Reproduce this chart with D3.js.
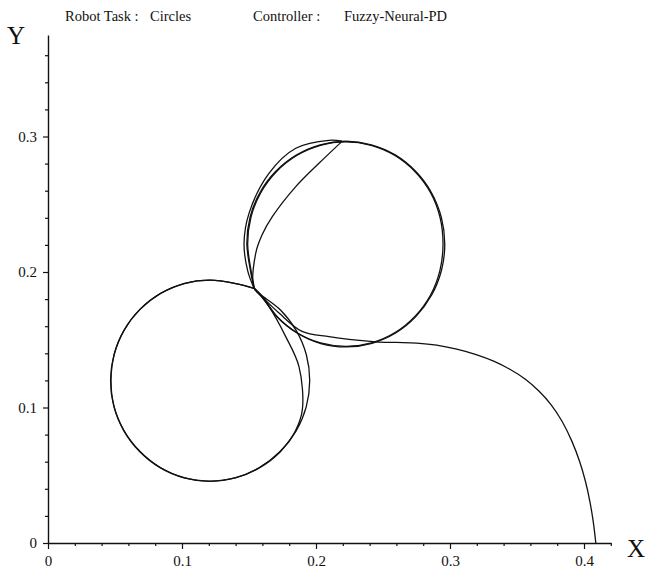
<!DOCTYPE html>
<html>
<head>
<meta charset="utf-8">
<script src="https://cdn.jsdelivr.net/npm/d3@7"></script>
<style>
  html, body { margin: 0; padding: 0; background: #fff; }
  svg { display: block; }
  text { font-family: "Liberation Serif", "Times New Roman", serif; fill: #111; }
</style>
</head>
<body>
<svg id="chart" width="647" height="571"></svg>
<script>
// Tick values
const xMajorTicks = [0, 0.1, 0.2, 0.3, 0.4];
const xMinorTicks = [0.02, 0.04, 0.06, 0.08, 0.12, 0.14, 0.16, 0.18, 0.22, 0.24, 0.26, 0.28, 0.32, 0.34, 0.36, 0.38, 0.42];
const yMajorTicks = [0, 0.1, 0.2, 0.3];
const yMinorTicks = [0.02, 0.04, 0.06, 0.08, 0.12, 0.14, 0.16, 0.18, 0.22, 0.24, 0.26, 0.28, 0.32, 0.34, 0.36];

// Tool path: approach from the start pose to the top of the upper circle
const approachPath = [
  [0.4088, 0.0000], [0.4070, 0.0150], [0.4045, 0.0300], [0.4012, 0.0450],
  [0.3968, 0.0600], [0.3910, 0.0750], [0.3835, 0.0900], [0.3755, 0.1020],
  [0.3665, 0.1120], [0.3560, 0.1210], [0.3450, 0.1280], [0.3330, 0.1340],
  [0.3195, 0.1390], [0.3050, 0.1430], [0.2900, 0.1460], [0.2750, 0.1475],
  [0.2600, 0.1480], [0.2448, 0.1485], [0.2246, 0.1502], [0.2097, 0.1523],
  [0.1896, 0.1562], [0.1724, 0.1697], [0.1597, 0.1818], [0.1537, 0.1882],
  [0.1550, 0.2138], [0.1597, 0.2273], [0.1674, 0.2408], [0.1849, 0.2630],
  [0.2022, 0.2802], [0.2196, 0.2966]
];

// Swing back along the outside of the upper circle to the crossing point
const returnArc = [
  [0.2196, 0.2966], [0.2097, 0.2972], [0.1849, 0.2913], [0.1649, 0.2728],
  [0.1500, 0.2433], [0.1463, 0.2212], [0.1490, 0.2010], [0.1537, 0.1882]
];

// Lower circle, first pass (clockwise), cutting inside on the right side
const lowerLap1 = [
  [0.1537, 0.1882], [0.1649, 0.1744], [0.1774, 0.1523], [0.1873, 0.1301],
  [0.1898, 0.0982], [0.1845, 0.0825], [0.1728, 0.0672], [0.1575, 0.0555],
  [0.1398, 0.0480], [0.1209, 0.0455], [0.1015, 0.0481], [0.0836, 0.0556],
  [0.0684, 0.0675], [0.0566, 0.0828], [0.0492, 0.1006], [0.0467, 0.1199],
  [0.0493, 0.1392], [0.0567, 0.1570], [0.0686, 0.1724], [0.0840, 0.1842],
  [0.1018, 0.1916], [0.1210, 0.1940], [0.1402, 0.1914], [0.1537, 0.1880]
];

// Upper circle, first pass (counter-clockwise)
const upperLap1 = [
  [0.1537, 0.1880], [0.1595, 0.1825], [0.1712, 0.1668], [0.1862, 0.1548],
  [0.2036, 0.1472], [0.2226, 0.1447], [0.2418, 0.1474], [0.2594, 0.1550],
  [0.2745, 0.1671], [0.2862, 0.1828], [0.2936, 0.2011], [0.2961, 0.2207],
  [0.2935, 0.2404], [0.2861, 0.2587], [0.2743, 0.2743], [0.2591, 0.2864],
  [0.2413, 0.2939], [0.2222, 0.2965], [0.2031, 0.2939], [0.1853, 0.2863],
  [0.1700, 0.2743], [0.1582, 0.2587], [0.1508, 0.2404], [0.1484, 0.2207],
  [0.1511, 0.2010], [0.1537, 0.1882]
];

// Lower circle, second pass
const lowerLap2 = [
  [0.1537, 0.1882], [0.1581, 0.1838], [0.1735, 0.1720], [0.1854, 0.1566],
  [0.1928, 0.1389], [0.1953, 0.1198], [0.1927, 0.1005], [0.1852, 0.0827],
  [0.1734, 0.0674], [0.1580, 0.0556], [0.1402, 0.0482], [0.1209, 0.0457],
  [0.1016, 0.0482], [0.0838, 0.0557], [0.0685, 0.0677], [0.0567, 0.0830],
  [0.0493, 0.1008], [0.0470, 0.1200], [0.0495, 0.1393], [0.0569, 0.1571],
  [0.0687, 0.1724], [0.0840, 0.1841], [0.1018, 0.1915], [0.1210, 0.1940],
  [0.1401, 0.1915], [0.1537, 0.1880]
];

// Upper circle, second pass
const upperLap2 = [
  [0.1537, 0.1880], [0.1590, 0.1828], [0.1707, 0.1672], [0.1858, 0.1552],
  [0.2034, 0.1477], [0.2224, 0.1451], [0.2414, 0.1477], [0.2590, 0.1553],
  [0.2740, 0.1674], [0.2855, 0.1830], [0.2925, 0.2012], [0.2948, 0.2207],
  [0.2926, 0.2402], [0.2856, 0.2584], [0.2740, 0.2740], [0.2589, 0.2860],
  [0.2412, 0.2935], [0.2223, 0.2960], [0.2033, 0.2935], [0.1856, 0.2860],
  [0.1704, 0.2740], [0.1587, 0.2584], [0.1514, 0.2402], [0.1490, 0.2207],
  [0.1515, 0.2012], [0.1540, 0.1884]
];

const pathSegments = [approachPath, returnArc, lowerLap1, upperLap1, lowerLap2, upperLap2];

// Heading pieces
const headingTexts = ["Robot Task :", "Circles", "Controller :", "Fuzzy-Neural-PD"];

const svg = d3.select("#chart");

const x = d3.scaleLinear().domain([0, 0.42]).range([48, 48 + 0.42 * 1340]);
const y = d3.scaleLinear().domain([0, 0.375]).range([543, 543 - 0.375 * 1355]);

const fmt = d => d === 0 ? "0" : d3.format(".1f")(d);

// X axis: major labelled ticks and short minor ticks
const xAxisG = svg.append("g").attr("transform", `translate(0,${y(0)})`);
xAxisG.call(d3.axisBottom(x).tickValues(xMajorTicks).tickFormat(fmt)
  .tickSize(6).tickSizeOuter(0).tickPadding(6));
xAxisG.append("g").call(d3.axisBottom(x).tickValues(xMinorTicks).tickFormat("")
  .tickSize(3).tickSizeOuter(0))
  .select(".domain").remove();

// Y axis
const yAxisG = svg.append("g").attr("transform", `translate(${x(0)},0)`);
yAxisG.call(d3.axisLeft(y).tickValues(yMajorTicks).tickFormat(fmt)
  .tickSize(5).tickSizeOuter(0).tickPadding(6));
yAxisG.append("g").call(d3.axisLeft(y).tickValues(yMinorTicks).tickFormat("")
  .tickSize(3).tickSizeOuter(0))
  .select(".domain").remove();

svg.selectAll(".domain").attr("stroke", "#111").attr("stroke-width", 1.4);
svg.selectAll(".tick line").attr("stroke", "#111").attr("stroke-width", 1.2);
svg.selectAll(".tick text")
  .attr("font-family", "'Liberation Serif', 'Times New Roman', serif")
  .attr("font-size", 15).attr("fill", "#111");

// Axis names
svg.append("text").attr("x", 16).attr("y", 44).attr("text-anchor", "middle")
  .attr("font-size", 25).text("Y");
svg.append("text").attr("x", 636).attr("y", 557).attr("text-anchor", "middle")
  .attr("font-size", 25).text("X");

// Heading
const headingX = [65, 150, 253, 344];
svg.selectAll("text.heading").data(headingTexts).enter().append("text")
  .attr("class", "heading")
  .attr("x", (d, i) => headingX[i]).attr("y", 21)
  .attr("font-size", 14.5)
  .text(d => d);

// Trajectory
const line = d3.line().x(d => x(d[0])).y(d => y(d[1])).curve(d3.curveCatmullRom.alpha(0.5));
svg.append("g").selectAll("path").data(pathSegments).enter().append("path")
  .attr("d", line)
  .attr("fill", "none")
  .attr("stroke", "#111")
  .attr("stroke-width", 1.3)
  .attr("stroke-linejoin", "round");
</script>
</body>
</html>
